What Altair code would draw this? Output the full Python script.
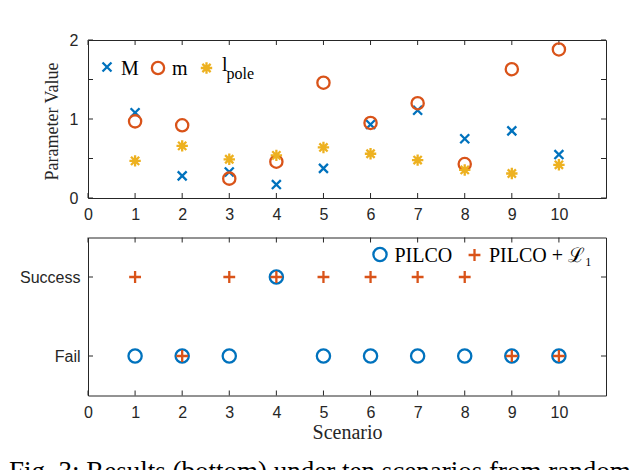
import altair as alt
import pandas as pd

# ---- data ----
scenarios = [1, 2, 3, 4, 5, 6, 7, 8, 9, 10]
M_vals = [1.08, 0.28, 0.33, 0.17, 0.375, 0.93, 1.11, 0.75, 0.85, 0.55]
m_vals = [0.97, 0.92, 0.245, 0.46, 1.46, 0.95, 1.20, 0.43, 1.63, 1.88]
lpole_vals = [0.47, 0.66, 0.49, 0.54, 0.64, 0.56, 0.48, 0.355, 0.31, 0.42]

pilco = ["Fail", "Fail", "Fail", "Success", "Fail", "Fail", "Fail", "Fail", "Fail", "Fail"]
pilco_l1 = ["Success", "Fail", "Success", "Success", "Success", "Success", "Success", "Success", "Fail", "Fail"]

x_ticks = [0, 1, 2, 3, 4, 5, 6, 7, 8, 9, 10]
y_ticks_top = [0, 0.5, 1, 1.5, 2]
y_ticks_bot = [0, 1]
outcome_code = {"Fail": 0, "Success": 1}

caption = "Fig. 3: Results (bottom) under ten scenarios from random"

# ---- styles ----
BLUE = "#0072BD"
ORANGE = "#D95319"
YELLOW = "#EDB120"
DARK = "#262626"
SANS = "Liberation Sans"
SERIF = "Liberation Serif"
W, H = 518, 158

XPATH = "M-1,-1L1,1M-1,1L1,-1"
PLUS = "M-1,0L1,0M0,-1L0,1"
AST = "M-1,0L1,0M0,-1L0,1M-0.72,-0.72L0.72,0.72M-0.72,0.72L0.72,-0.72"

top_df = pd.DataFrame({"s": scenarios, "M": M_vals, "m": m_vals, "l": lpole_vals})
bot_df = pd.DataFrame({
    "s": scenarios,
    "pilco": [outcome_code[v] for v in pilco],
    "pilco_l1": [outcome_code[v] for v in pilco_l1],
})
xt_df = pd.DataFrame({"t": x_ticks})
ytt_df = pd.DataFrame({"t": y_ticks_top})
ytb_df = pd.DataFrame({"t": y_ticks_bot})

xscale = alt.Scale(domain=[0, 11], nice=False, zero=False)
yscale_top = alt.Scale(domain=[0, 2], nice=False)
yscale_bot = alt.Scale(domain=[-0.5, 1.5], nice=False)


def x_axis(pad, **kw):
    args = dict(values=x_ticks, tickSize=0, domain=False, grid=False,
                labelFont=SANS, labelFontSize=16, labelColor=DARK,
                labelPadding=pad, labelFlush=False, format="d")
    args.update(kw)
    return alt.Axis(**args)


def ticks_x():
    b = alt.Chart(xt_df).mark_rule(color=DARK, strokeWidth=1).encode(
        x=alt.X("t:Q", scale=xscale), y=alt.value(H), y2=alt.value(H - 5))
    t = alt.Chart(xt_df).mark_rule(color=DARK, strokeWidth=1).encode(
        x=alt.X("t:Q", scale=xscale), y=alt.value(0), y2=alt.value(5))
    return [b, t]


def ticks_y(df, ys):
    l = alt.Chart(df).mark_rule(color=DARK, strokeWidth=1).encode(
        y=alt.Y("t:Q", scale=ys), x=alt.value(0), x2=alt.value(5))
    r = alt.Chart(df).mark_rule(color=DARK, strokeWidth=1).encode(
        y=alt.Y("t:Q", scale=ys), x=alt.value(W), x2=alt.value(W - 5))
    return [l, r]


pt = dict(filled=False, opacity=1, strokeWidth=2.3)

# ---- top panel ----
base_top = alt.Chart(top_df)
M_pts = base_top.mark_point(shape=XPATH, color=BLUE, size=80, **pt).encode(
    x=alt.X("s:Q", scale=xscale, axis=x_axis(8, title=None)),
    y=alt.Y("M:Q", scale=yscale_top, axis=alt.Axis(
        values=y_ticks_top, tickSize=0, domain=False, grid=False, format=".1~f",
        labelFont=SANS, labelFontSize=16, labelColor=DARK, labelPadding=10, labelFlush=False,
        title="Parameter Value", titleFont=SERIF, titleFontSize=18, titleFontWeight="normal",
        titleColor=DARK, titleX=-31, titleY=81, titleBaseline="alphabetic")),
)
m_pts = base_top.mark_point(shape="circle", color=ORANGE, size=150, **pt).encode(
    x=alt.X("s:Q", scale=xscale), y=alt.Y("m:Q", scale=yscale_top))
l_pts = base_top.mark_point(shape=AST, color=YELLOW, size=130, **pt).encode(
    x=alt.X("s:Q", scale=xscale), y=alt.Y("l:Q", scale=yscale_top))

leg_top_sym = pd.DataFrame({"k": ["M", "m", "l"], "px": [19, 70, 118.5]})
leg_top_txt = pd.DataFrame({"k": ["M", "m", "l"], "px": [33, 84, 134], "py": [35, 35, 31]})
lt_M = alt.Chart(leg_top_sym[leg_top_sym.k == "M"]).mark_point(
    shape=XPATH, color=BLUE, size=80, **pt).encode(
    x=alt.X("px:Q", scale=None), y=alt.value(27))
lt_m = alt.Chart(leg_top_sym[leg_top_sym.k == "m"]).mark_point(
    shape="circle", color=ORANGE, size=150, **pt).encode(
    x=alt.X("px:Q", scale=None), y=alt.value(28))
lt_l = alt.Chart(leg_top_sym[leg_top_sym.k == "l"]).mark_point(
    shape=AST, color=YELLOW, size=130, **pt).encode(
    x=alt.X("px:Q", scale=None), y=alt.value(28))
lt_txt = alt.Chart(leg_top_txt).mark_text(
    align="left", baseline="alphabetic", font=SERIF, fontSize=20, color="black").encode(
    x=alt.X("px:Q", scale=None), y=alt.Y("py:Q", scale=None), text="k:N")
lt_sub = alt.Chart(pd.DataFrame({"k": ["pole"]})).mark_text(
    align="left", baseline="alphabetic", font=SERIF, fontSize=16, color="black").encode(
    x=alt.value(138.5), y=alt.value(39), text="k:N")

top = alt.layer(
    *ticks_x(), *ticks_y(ytt_df, yscale_top),
    M_pts, m_pts, l_pts, lt_M, lt_m, lt_l, lt_txt, lt_sub,
).properties(width=W, height=H)

# ---- bottom panel ----
base_bot = alt.Chart(bot_df)
ptb = dict(filled=False, opacity=1, strokeWidth=2.3)
p_pts = base_bot.mark_point(shape="circle", color=BLUE, size=175, **ptb).encode(
    x=alt.X("s:Q", scale=xscale, axis=x_axis(9, title="Scenario",
        titleFont=SERIF, titleFontSize=20, titleFontWeight="normal", titleColor=DARK,
        titleBaseline="alphabetic", titleY=43)),
    y=alt.Y("pilco:Q", scale=yscale_bot, axis=alt.Axis(
        values=y_ticks_bot, tickSize=0, domain=False, grid=False,
        labelFont=SANS, labelFontSize=16, labelColor=DARK, labelPadding=8,
        labelExpr="datum.value == 1 ? 'Success' : 'Fail'", title=None)),
)
pl_pts = base_bot.mark_point(shape=PLUS, color=ORANGE, size=140, **ptb).encode(
    x=alt.X("s:Q", scale=xscale), y=alt.Y("pilco_l1:Q", scale=yscale_bot))

lb_df = pd.DataFrame({"k": ["PILCO", "PILCO + \u2112\u2081"], "px": [306.5, 401]})
lb_c = alt.Chart(lb_df.iloc[[0]]).mark_point(
    shape="circle", color=BLUE, size=175, **ptb).encode(
    x=alt.value(292), y=alt.value(17))
lb_p = alt.Chart(lb_df.iloc[[1]]).mark_point(
    shape=PLUS, color=ORANGE, size=140, **ptb).encode(
    x=alt.value(386.5), y=alt.value(17.5))
lb_txt = alt.Chart(lb_df).mark_text(
    align="left", baseline="alphabetic", font=SERIF, fontSize=20, color="black").encode(
    x=alt.X("px:Q", scale=None), y=alt.value(24), text="k:N")
cap = alt.Chart(pd.DataFrame({"k": [caption]})).mark_text(
    align="left", baseline="alphabetic", font=SERIF, fontSize=27, color="black").encode(
    x=alt.value(-79), y=alt.value(242), text="k:N")

bottom = alt.layer(
    *ticks_x(), *ticks_y(ytb_df, yscale_bot),
    p_pts, pl_pts, lb_c, lb_p, lb_txt, cap,
).properties(width=W, height=H)

chart = alt.vconcat(top, bottom, spacing=13.5).properties(
    padding={"left": 0, "top": 23, "right": 0, "bottom": 0}
).configure(background="white").configure_view(stroke=DARK, strokeWidth=1)

chart.save("out.html", embed_options={"renderer": "svg", "actions": False})
